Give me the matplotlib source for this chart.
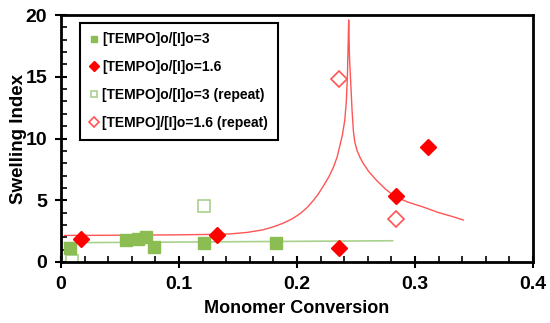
import matplotlib.pyplot as plt
import numpy as np

plt.rcParams['font.family'] = ['Liberation Sans', 'DejaVu Sans']
plt.rcParams['font.weight'] = 'bold'

# [TEMPO]o/[I]o = 3
x_g = [0.008, 0.055, 0.065, 0.072, 0.079, 0.121, 0.182]
y_g = [1.1, 1.8, 1.9, 2.0, 1.25, 1.5, 1.55]
# [TEMPO]o/[I]o = 1.6
x_r = [0.017, 0.132, 0.236, 0.284, 0.311]
y_r = [1.9, 2.16, 1.16, 5.37, 9.35]
# repeats
x_go = [0.009, 0.121]
y_go = [0.1, 4.56]
x_ro = [0.236, 0.284]
y_ro = [14.8, 3.48]

# trend lines
fit_gx = [0.003, 0.281]
fit_gy = [1.56, 1.72]
fit_rx = [0.003, 0.05, 0.10, 0.13, 0.143, 0.158, 0.171, 0.180, 0.188, 0.196,
          0.203, 0.209, 0.214, 0.218, 0.222, 0.227, 0.231, 0.234, 0.236,
          0.2385, 0.2405, 0.2418, 0.2427, 0.2433, 0.2438, 0.2445, 0.2458,
          0.2467, 0.2478, 0.249, 0.251, 0.2535, 0.256, 0.261, 0.2675, 0.275,
          0.283, 0.294, 0.307, 0.320, 0.331, 0.341]
fit_ry = [2.15, 2.17, 2.2, 2.24, 2.27, 2.4, 2.6, 2.85, 3.13, 3.5,
          3.94, 4.45, 5.0, 5.5, 6.1, 6.9, 7.7, 8.5, 9.3,
          10.3, 11.5, 13.0, 15.0, 17.5, 19.6, 16.5, 14.0,
          12.2, 10.6, 9.7, 9.0, 8.45, 8.0, 7.3, 6.6, 5.9,
          5.3, 4.85, 4.45, 4.0, 3.7, 3.4]

green = '#8cbd52'
lgreen = '#a9d18e'
red = '#ff0000'
lred = '#ff5555'

fig = plt.figure(figsize=(5.5, 3.23), dpi=100)
ax = fig.add_axes([61 / 550, 1 - 262 / 323, 472 / 550, 247 / 323])

ax.plot(fit_gx, fit_gy, color=lgreen, lw=1.2, zorder=1)
ax.plot(fit_rx, fit_ry, color=lred, lw=1.0, zorder=1)

ax.plot(x_g, y_g, 's', color=green, ms=9, mec=green, label='[TEMPO]o/[I]o=3', zorder=3)
ax.plot(x_r, y_r, 'D', color=red, ms=8.5, mec=red, label='[TEMPO]o/[I]o=1.6', zorder=3)
ax.plot(x_go, y_go, 's', mfc='white', mec=lgreen, mew=1.2, ms=9,
        label='[TEMPO]o/[I]o=3 (repeat)', zorder=2)
ax.plot(x_ro, y_ro, 'D', mfc='white', mec=lred, mew=1.2, ms=8.5,
        label='[TEMPO]/[I]o=1.6 (repeat)', zorder=2)

ax.set_xlim(0, 0.4)
ax.set_ylim(0, 20)
ax.set_xticks([0, 0.1, 0.2, 0.3, 0.4])
ax.set_xticklabels(['0', '0.1', '0.2', '0.3', '0.4'])
ax.set_yticks([0, 5, 10, 15, 20])
ax.set_xticks(np.arange(0, 0.401, 0.02), minor=True)
ax.set_yticks(np.arange(0, 20.1, 1), minor=True)
ax.tick_params(which='major', direction='inout', length=8, width=1.5, labelsize=14, pad=6)
ax.tick_params(which='minor', direction='in', length=4, width=1.2)
for s in ax.spines.values():
    s.set_linewidth(2)

ax.set_xlabel('Monomer Conversion', fontsize=13, fontweight='bold', labelpad=5)
ax.set_ylabel('Swelling Index', fontsize=13.5, fontweight='bold', labelpad=-1)

leg = ax.legend(loc='upper left', bbox_to_anchor=(0.025, 0.997), prop={'size': 10, 'weight': 'bold'},
                markerscale=0.55, handlelength=0.6, handletextpad=0.3,
                labelspacing=1.0, borderpad=0.7, fancybox=False, framealpha=1,
                edgecolor='black', numpoints=1)
leg.get_frame().set_linewidth(1.5)

fig.savefig('out.png', dpi=100)
